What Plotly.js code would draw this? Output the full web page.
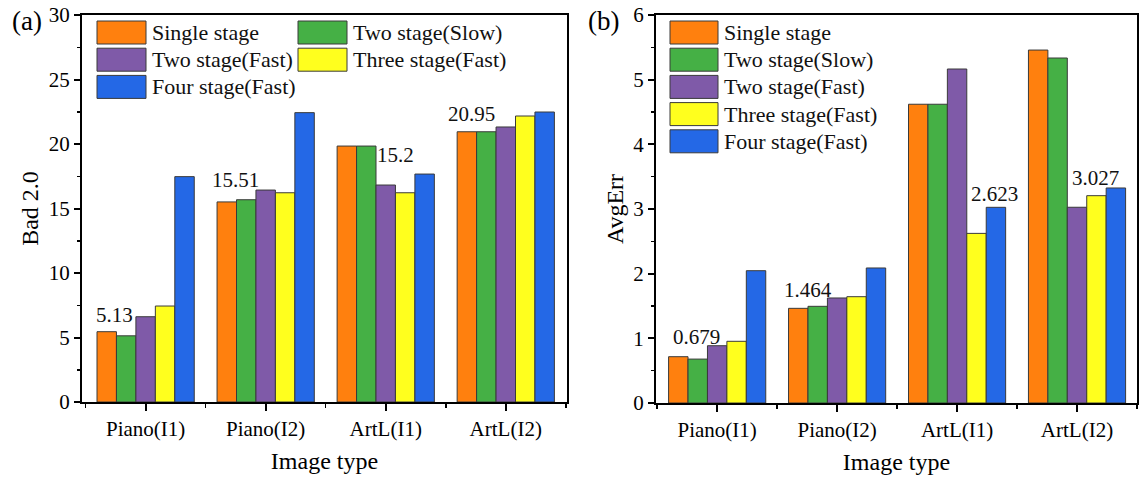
<!DOCTYPE html>
<html>
<head>
<meta charset="utf-8">
<script src="https://cdn.plot.ly/plotly-3.0.1.min.js"></script>
<style>html,body{margin:0;padding:0;background:#fff;}#chart{width:1146px;height:477px;}</style>
</head>
<body>
<div id="chart"></div>
<script>
// ---------- data ----------
const categories = ['Piano(I1)', 'Piano(I2)', 'ArtL(I1)', 'ArtL(I2)'];
const seriesNames = ['Single stage', 'Two stage(Slow)', 'Two stage(Fast)', 'Three stage(Fast)', 'Four stage(Fast)'];
const seriesColors = ['#FF800E', '#45B045', '#7F5AA8', '#FFFF1E', '#2468E6'];

// (a) Bad 2.0
const bad_single  = [5.45, 15.51, 19.84, 20.95];
const bad_twoSlow = [5.13, 15.68, 19.84, 20.95];
const bad_twoFast = [6.61, 16.43, 16.82, 21.32];
const bad_three   = [7.44, 16.22, 16.22, 22.17];
const bad_four    = [17.47, 22.43, 17.67, 22.48];

// (b) AvgErr
const avg_single  = [0.716, 1.464, 4.62, 5.458];
const avg_twoSlow = [0.679, 1.495, 4.62, 5.335];
const avg_twoFast = [0.886, 1.624, 5.165, 3.027];
const avg_three   = [0.954, 1.644, 2.623, 3.206];
const avg_four    = [2.046, 2.088, 3.026, 3.325];

// value labels written on the charts
const badLabelText   = ['5.13', '15.51', '15.2', '20.95'];
const badLabelSeries = [1, 0, 3, 0];
const avgLabelText   = ['0.679', '1.464', '2.623', '3.027'];
const avgLabelSeries = [1, 0, 3, 2];

const yTicksA = [0, 5, 10, 15, 20, 25, 30];
const yTicksB = [0, 1, 2, 3, 4, 5, 6];

// ---------- build ----------
const W = 1146, H = 477;
const FONT = 'Liberation Serif, Times New Roman, serif';
const px = v => v / W;          // x pixels -> paper
const py = v => 1 - v / H;      // y pixels -> paper

const badSeries = [bad_single, bad_twoSlow, bad_twoFast, bad_three, bad_four];
const avgSeries = [avg_single, avg_twoSlow, avg_twoFast, avg_three, avg_four];
const xIdx = categories.map((c, i) => i);

const traces = [];
badSeries.forEach((vals, k) => traces.push({
  type: 'bar', x: xIdx, y: vals, name: seriesNames[k], xaxis: 'x', yaxis: 'y',
  marker: {color: seriesColors[k], line: {color: '#3a3a3a', width: 1}}, showlegend: false
}));
avgSeries.forEach((vals, k) => traces.push({
  type: 'bar', x: xIdx, y: vals, name: seriesNames[k], xaxis: 'x2', yaxis: 'y2',
  marker: {color: seriesColors[k], line: {color: '#3a3a3a', width: 1}}, showlegend: false
}));

const xCommon = {
  tickmode: 'array', tickvals: xIdx, ticktext: categories,
  showline: true, linecolor: '#000', linewidth: 2, mirror: true,
  ticks: 'outside', ticklen: 7, tickwidth: 2, tickcolor: '#000',
  minor: {dtick: 0.5, tick0: 0, ticks: 'outside', ticklen: 4, tickwidth: 1.5, tickcolor: '#000'},
  showgrid: false, zeroline: false,
  tickfont: {family: FONT, size: 21, color: '#000'},
  title: {text: 'Image type', font: {family: FONT, size: 24, color: '#000'}, standoff: 12}
};
function yAxis(range, ticks, title, minorStep) {
  return {
    range: range, tickmode: 'array', tickvals: ticks,
    showline: true, linecolor: '#000', linewidth: 2, mirror: true,
    ticks: 'outside', ticklen: 6, tickwidth: 2, tickcolor: '#000',
    minor: {dtick: minorStep, ticks: 'outside', ticklen: 3, tickwidth: 1.5, tickcolor: '#000'},
    showgrid: false, zeroline: false,
    tickfont: {family: FONT, size: 21, color: '#000'},
    title: {text: title, font: {family: FONT, size: 24, color: '#000'}, standoff: 3}
  };
}

const shapes = [];
const annotations = [];

// custom legends (large swatches)
function legendItem(k, x0, x1, yTop) {
  shapes.push({type: 'rect', xref: 'paper', yref: 'paper',
    x0: px(x0), x1: px(x1), y0: py(yTop + 23), y1: py(yTop),
    fillcolor: seriesColors[k], line: {color: '#3a3a3a', width: 1}});
  annotations.push({xref: 'paper', yref: 'paper', x: px(x1 + 4), y: py(yTop + 11.5),
    xanchor: 'left', yanchor: 'middle', showarrow: false, text: seriesNames[k],
    font: {family: FONT, size: 22, color: '#111'}});
}
// (a): two columns, row-major
seriesNames.forEach((n, k) => {
  const col = k % 2, row = Math.floor(k / 2);
  const x0 = col === 0 ? 97 : 298;
  legendItem(k, x0, x0 + 49, 21 + row * 27.2);
});
// (b): one column
seriesNames.forEach((n, k) => legendItem(k, 670, 718, 21 + k * 27.2));

// value labels
const badShift = [[-31, 7], [-30, 8], [10, 24], [-34, 4]];
const avgShift = [[-21, 8], [-29, 4], [37, 25], [18, 15]];
badLabelText.forEach((t, i) => annotations.push({
  xref: 'x', yref: 'y', x: xIdx[i], y: badSeries[badLabelSeries[i]][i],
  xshift: badShift[i][0], yshift: badShift[i][1], xanchor: 'center', yanchor: 'bottom',
  showarrow: false, text: t, font: {family: FONT, size: 21, color: '#111'}}));
avgLabelText.forEach((t, i) => annotations.push({
  xref: 'x2', yref: 'y2', x: xIdx[i], y: avgSeries[avgLabelSeries[i]][i],
  xshift: avgShift[i][0], yshift: avgShift[i][1], xanchor: 'center', yanchor: 'bottom',
  showarrow: false, text: t, font: {family: FONT, size: 21, color: '#111'}}));

// panel labels
annotations.push({xref: 'paper', yref: 'paper', x: px(10), y: py(21), xanchor: 'left', yanchor: 'middle',
  showarrow: false, text: '(a)', font: {family: FONT, size: 27, color: '#000'}});
annotations.push({xref: 'paper', yref: 'paper', x: px(586), y: py(21), xanchor: 'left', yanchor: 'middle',
  showarrow: false, text: '(b)', font: {family: FONT, size: 27, color: '#000'}});

const layout = {
  width: W, height: H, margin: {l: 0, r: 0, t: 0, b: 0},
  paper_bgcolor: '#fff', plot_bgcolor: '#fff',
  barmode: 'group', bargap: 0.19, bargroupgap: 0,
  showlegend: false,
  xaxis: Object.assign({}, xCommon, {domain: [px(82), px(567)], range: [-0.53, 3.51], anchor: 'y'}),
  xaxis2: Object.assign({}, xCommon, {domain: [px(656), px(1137)], range: [-0.51, 3.5], anchor: 'y2'}),
  yaxis: Object.assign(yAxis([0, 30], yTicksA, 'Bad 2.0', 2.5), {domain: [py(402), py(15)], anchor: 'x'}),
  yaxis2: Object.assign(yAxis([0, 6], yTicksB, 'AvgErr', 0.5), {domain: [py(403), py(15)], anchor: 'x2'}),
  shapes: shapes, annotations: annotations,
  font: {family: FONT}
};

Plotly.newPlot('chart', traces, layout, {displayModeBar: false, staticPlot: true});
</script>
</body>
</html>
